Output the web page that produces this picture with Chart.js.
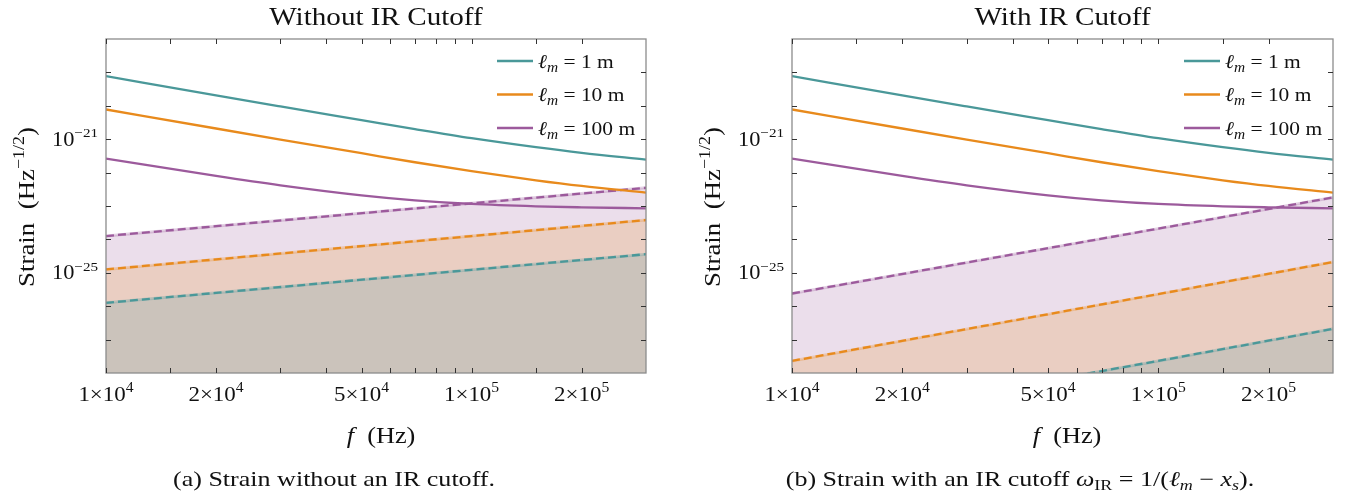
<!DOCTYPE html>
<html>
<head>
<meta charset="utf-8">
<script src="https://cdn.jsdelivr.net/npm/chart.js@4.4.1/dist/chart.umd.min.js"></script>
<style>
  html, body { margin: 0; padding: 0; background: #ffffff; }
  #wrap { position: relative; width: 1361px; height: 496px; }
  canvas { position: absolute; top: 0; }
</style>
</head>
<body>
<div id="wrap">
  <canvas id="c1" width="680" height="496" style="left:0px"></canvas>
  <canvas id="c2" width="681" height="496" style="left:680px"></canvas>
</div>
<script>
// ---------------- data ----------------
const FREQ = [1e4, 2e4, 3e4, 5e4, 7e4, 1e5, 1.5e5, 2e5, 3e5];
const STRAIN_1M   = [7.76e-20, 2.04e-20, 9.55e-21, 3.72e-21, 2.0e-21, 1.07e-21, 5.75e-22, 3.89e-22, 2.45e-22];
const STRAIN_10M  = [7.76e-21, 2.09e-21, 9.77e-22, 3.80e-22, 2.04e-22, 1.10e-22, 5.89e-23, 3.98e-23, 2.51e-23];
const STRAIN_100M = [2.63e-22, 7.94e-23, 4.17e-23, 2.09e-23, 1.48e-23, 1.15e-23, 9.77e-24, 9.12e-24, 8.51e-24];

const FLOOR_FREQ = [1e4, 1e5, 3e5];
// panel (a): without IR cutoff
const FLOOR_A_1M   = [1.26e-26, 1.23e-25, 3.6e-25];
const FLOOR_A_10M  = [1.26e-25, 1.26e-24, 3.8e-24];
const FLOOR_A_100M = [1.26e-24, 1.2e-23, 3.5e-23];
// panel (b): with IR cutoff
const FLOOR_B_1M   = [2.5e-30, 2.3e-28, 2.1e-27];
const FLOOR_B_10M  = [2.3e-28, 2.3e-26, 2.1e-25];
const FLOOR_B_100M = [2.4e-26, 2.1e-24, 1.8e-23];

const SERIES_LABELS = ['1 m', '10 m', '100 m'];
const X_TICKS = [1e4, 1.5e4, 2e4, 3e4, 4e4, 5e4, 6e4, 7e4, 8e4, 9e4, 1e5, 1.5e5, 2e5];
const X_LABELED = [1e4, 2e4, 5e4, 1e5, 2e5];
const X_LABEL_MANT = ['1', '2', '5', '1', '2'];
const X_LABEL_EXP = ['4', '4', '4', '5', '5'];
const Y_TICKS = [1e-27, 1e-26, 1e-25, 1e-24, 1e-23, 1e-22, 1e-21, 1e-20, 1e-19];
const Y_LABELED = [1e-21, 1e-25];
const Y_LABEL_EXP = ['−21', '−25'];
const TITLES = ['Without IR Cutoff', 'With IR Cutoff'];

// ---------------- style ----------------
const COLORS = ['#4a9899', '#e88a1c', '#9c5a9c'];
const FILLS = ['rgba(74,152,153,0.2)', 'rgba(232,138,28,0.2)', 'rgba(156,90,156,0.2)'];
const HALO = ['rgba(74,152,153,0.28)', 'rgba(232,138,28,0.28)', 'rgba(156,90,156,0.28)'];
const FAMILY = '"Liberation Serif", "DejaVu Serif", serif';
const STRETCH = 1.12;

function pts(xs, ys) { return xs.map((x, i) => ({ x: x, y: ys[i] })); }

function drawRuns(ctx, list, x, y, align, stretch) {
  let w = 0;
  list.forEach(r => {
    ctx.font = (r.i ? 'italic ' : '') + r.s + 'px ' + FAMILY;
    r.w = ctx.measureText(r.t).width;
    w += r.w + (r.dx || 0);
  });
  const sx = stretch || STRETCH;
  let start = x;
  if (align === 'center') start = x - w * sx / 2;
  else if (align === 'right') start = x - w * sx;
  ctx.save();
  ctx.translate(start, y);
  ctx.scale(sx, 1);
  ctx.textAlign = 'left';
  ctx.textBaseline = 'alphabetic';
  let cx = 0;
  list.forEach(r => {
    ctx.font = (r.i ? 'italic ' : '') + r.s + 'px ' + FAMILY;
    ctx.fillStyle = r.c || '#111';
    cx += (r.dx || 0);
    ctx.fillText(r.t, cx, r.dy || 0);
    cx += r.w;
  });
  ctx.restore();
}

function makeDecor(panel) {
  return {
    id: 'decor' + panel,
    afterDraw(chart) {
      const ctx = chart.ctx;
      const a = chart.chartArea;
      const xs = chart.scales.x, ys = chart.scales.y;
      ctx.save();
      // frame
      ctx.strokeStyle = '#8c8c8c';
      ctx.lineWidth = 1.3;
      ctx.strokeRect(a.left, a.top, a.right - a.left, a.bottom - a.top);
      // ticks (inside, all four sides)
      ctx.strokeStyle = '#333';
      ctx.lineWidth = 1;
      const TL = 5;
      X_TICKS.forEach(v => {
        const px = Math.round(xs.getPixelForValue(v)) + 0.5;
        ctx.beginPath();
        ctx.moveTo(px, a.bottom); ctx.lineTo(px, a.bottom - TL);
        ctx.moveTo(px, a.top); ctx.lineTo(px, a.top + TL);
        ctx.stroke();
      });
      Y_TICKS.forEach(v => {
        const py = Math.round(ys.getPixelForValue(v)) + 0.5;
        ctx.beginPath();
        ctx.moveTo(a.left, py); ctx.lineTo(a.left + TL, py);
        ctx.moveTo(a.right, py); ctx.lineTo(a.right - TL, py);
        ctx.stroke();
      });
      // x tick labels
      X_LABELED.forEach((v, i) => {
        const px = xs.getPixelForValue(v);
        drawRuns(ctx, [
          { t: X_LABEL_MANT[i] + '×10', s: 20.5 },
          { t: X_LABEL_EXP[i], s: 14, dy: -9 }
        ], px, a.bottom + 28, 'center');
      });
      // y tick labels
      Y_LABELED.forEach((v, i) => {
        const py = ys.getPixelForValue(v);
        drawRuns(ctx, [
          { t: '10', s: 20 },
          { t: Y_LABEL_EXP[i], s: 13.5, dy: -8.5 }
        ], a.left - 8, py + 6.5, 'right');
      });
      // title
      drawRuns(ctx, [{ t: TITLES[panel], s: 26 }], (a.left + a.right) / 2, 25, 'center');
      // x axis title
      drawRuns(ctx, [{ t: 'f', s: 23.5, i: true }, { t: '  (Hz)', s: 23.5 }], a.left + 275, a.bottom + 70, 'center');
      // y axis title (rotated)
      ctx.save();
      ctx.translate(a.left - 72, (a.top + a.bottom) / 2 + 1);
      ctx.rotate(-Math.PI / 2);
      drawRuns(ctx, [
        { t: 'Strain  (Hz', s: 24 },
        { t: '−1/2', s: 16, dy: -10 },
        { t: ')', s: 24 }
      ], 0, 0, 'center');
      ctx.restore();
      // legend
      const lx = a.right - 149;
      [0, 1, 2].forEach(k => {
        const ly = a.top + 22 + k * 33.5;
        ctx.strokeStyle = COLORS[k];
        ctx.lineWidth = 2.6;
        ctx.beginPath(); ctx.moveTo(lx, ly); ctx.lineTo(lx + 36, ly); ctx.stroke();
        drawRuns(ctx, [
          { t: 'ℓ', s: 19.5, i: true },
          { t: 'm', s: 14, i: true, dy: 4 },
          { t: ' = ' + SERIES_LABELS[k], s: 19.5 }
        ], lx + 41, ly + 6.5, 'left', 1.1);
      });
      // caption
      const capX = a.left + 228;
      const CS = 21, CSUB = 14.5, CST = 1.24;
      if (panel === 0) {
        drawRuns(ctx, [{ t: '(a) Strain without an IR cutoff.', s: CS }], capX, 486, 'center', CST);
      } else {
        drawRuns(ctx, [
          { t: '(b) Strain with an IR cutoff ', s: CS },
          { t: 'ω', s: CS, i: true },
          { t: 'IR', s: CSUB, dy: 4 },
          { t: ' = 1/(', s: CS },
          { t: 'ℓ', s: CS, i: true },
          { t: 'm', s: CSUB, i: true, dy: 4 },
          { t: ' − ', s: CS },
          { t: 'x', s: CS, i: true },
          { t: 's', s: CSUB, i: true, dy: 4 },
          { t: ').', s: CS }
        ], capX, 486, 'center', CST);
      }
      ctx.restore();
    }
  };
}

function buildChart(id, panel, floors, padding) {
  const solids = [STRAIN_1M, STRAIN_10M, STRAIN_100M];
  const datasets = [];
  // fills (bottom layer)
  [2, 1, 0].forEach(k => {
    datasets.push({
      data: pts(FLOOR_FREQ, floors[k]),
      borderColor: HALO[k], borderWidth: 3, backgroundColor: FILLS[k],
      fill: 'start', pointRadius: 0, tension: 0, order: 10 + k, clip: 0
    });
  });
  // dashed floor lines
  [2, 1, 0].forEach(k => {
    datasets.push({
      data: pts(FLOOR_FREQ, floors[k]),
      borderColor: COLORS[k], borderWidth: 2.3, borderDash: [8, 4],
      fill: false, pointRadius: 0, tension: 0, order: 5 + k, clip: 0
    });
  });
  // solid strain curves (top)
  [2, 1, 0].forEach(k => {
    datasets.push({
      label: SERIES_LABELS[k],
      data: pts(FREQ, solids[k]),
      borderColor: COLORS[k], borderWidth: 2.3,
      fill: false, pointRadius: 0, cubicInterpolationMode: 'monotone', order: k
    });
  });
  return new Chart(document.getElementById(id), {
    type: 'line',
    data: { datasets: datasets },
    options: {
      responsive: false,
      animation: false,
      events: [],
      layout: { padding: padding },
      scales: {
        x: { type: 'logarithmic', min: 1e4, max: 3e5, display: false },
        y: { type: 'logarithmic', min: 1e-28, max: 1e-18, display: false }
      },
      plugins: { legend: { display: false }, tooltip: { enabled: false }, title: { display: false } }
    },
    plugins: [makeDecor(panel)]
  });
}

buildChart('c1', 0, [FLOOR_A_1M, FLOOR_A_10M, FLOOR_A_100M], { left: 106, right: 34, top: 39, bottom: 123 });
buildChart('c2', 1, [FLOOR_B_1M, FLOOR_B_10M, FLOOR_B_100M], { left: 112, right: 28, top: 39, bottom: 123 });
</script>
</body>
</html>
